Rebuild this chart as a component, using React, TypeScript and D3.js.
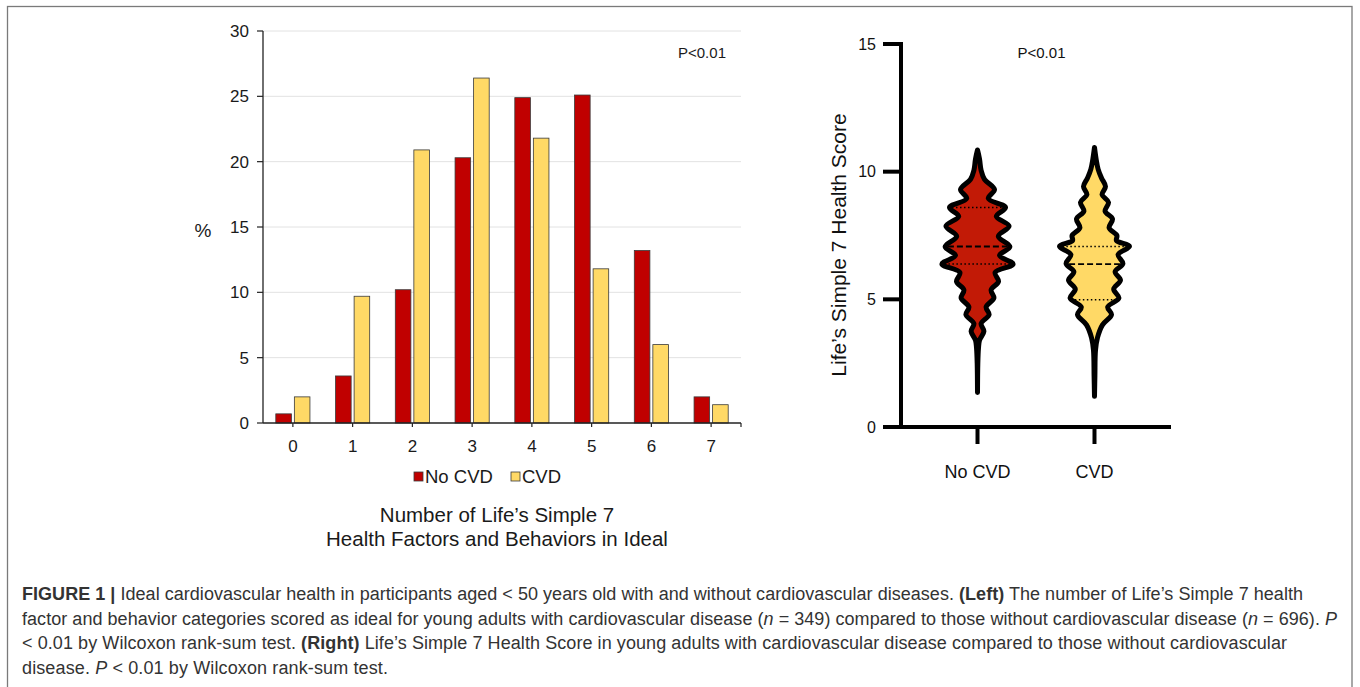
import React from "react";
import * as d3 from "d3";

// ---------- Left panel data ----------
const categories = ["0", "1", "2", "3", "4", "5", "6", "7"];
const seriesNames = ["No CVD", "CVD"];
const noCvdPct = [0.7, 3.6, 10.2, 20.3, 24.9, 25.1, 13.2, 2.0];
const cvdPct = [2.0, 9.7, 20.9, 26.4, 21.8, 11.8, 6.0, 1.4];
const leftTicks = [0, 5, 10, 15, 20, 25, 30];

// ---------- Right panel data ----------
const groups = ["No CVD", "CVD"];
const rightTicks = [0, 5, 10, 15];
const noCvdScores = [10.85, 10.5, 10.05, 9.7, 9.3, 8.95, 8.6, 8.25, 7.87, 7.47, 7.06, 6.72, 6.38, 6.05, 5.7, 5.37, 5.05, 4.7, 4.4, 4.05, 3.75, 3.4, 3.1, 2.5, 1.35];
const noCvdDensity = [0, 0.05, 0.09, 0.175, 0.425, 0.27, 0.7, 0.47, 0.79, 0.52, 0.81, 0.55, 0.89, 0.44, 0.525, 0.34, 0.41, 0.215, 0.29, 0.09, 0.16, 0.05, 0.025, 0.008, 0];
const cvdScores = [10.95, 10.5, 10.1, 9.75, 9.42, 9.1, 8.8, 8.45, 8.15, 7.8, 7.5, 7.3, 7.08, 6.75, 6.4, 6.08, 5.75, 5.4, 5.05, 4.7, 4.4, 4.0, 3.5, 3.0, 2.0, 1.2];
const cvdDensity = [0, 0.04, 0.09, 0.175, 0.275, 0.19, 0.35, 0.265, 0.45, 0.365, 0.56, 0.55, 0.875, 0.59, 0.71, 0.515, 0.65, 0.48, 0.61, 0.33, 0.425, 0.2, 0.075, 0.025, 0.01, 0];
const noCvdQuartiles = [6.38, 7.07, 8.6];
const cvdQuartiles = [4.98, 6.38, 7.07];

const RED = "#C00000";
const VRED = "#C21A06";
const YEL = "#FFD966";
const FONT = "'Liberation Sans', Arial, Helvetica, sans-serif";

function interp(scores: number[], dens: number[], v: number) {
  for (let i = 0; i < scores.length - 1; i++) {
    const a = scores[i], b = scores[i + 1];
    if ((v <= a && v >= b) || (v >= a && v <= b)) {
      const t = (v - a) / (b - a);
      return dens[i] + t * (dens[i + 1] - dens[i]);
    }
  }
  return 0;
}

export default function App() {
  // Left panel scales
  const x0 = d3.scaleBand<string>().domain(categories).range([263, 741]);
  const x1 = d3
    .scaleBand<string>()
    .domain(seriesNames)
    .range([0, x0.bandwidth()])
    .paddingInner(0.16)
    .paddingOuter(0.69);
  const yL = d3.scaleLinear().domain([0, 30]).range([423, 31]);

  // Right panel scales
  const xR = d3.scalePoint<string>().domain(groups).range([901, 1171]).padding(0.654);
  const yR = d3.scaleLinear().domain([0, 15]).range([427, 44]);
  const wScale = d3.scaleLinear().domain([0, 1]).range([0, 40]);

  const violins = [
    { g: "No CVD", scores: noCvdScores, dens: noCvdDensity, q: noCvdQuartiles, fill: VRED },
    { g: "CVD", scores: cvdScores, dens: cvdDensity, q: cvdQuartiles, fill: YEL },
  ];

  const series = [
    { name: "No CVD", values: noCvdPct, fill: RED },
    { name: "CVD", values: cvdPct, fill: YEL },
  ];

  return (
    <svg
      width={1360}
      height={687}
      style={{ position: "absolute", left: 0, top: 0, background: "#fff" }}
      fontFamily={FONT}
    >
      <rect x={7.5} y={6.5} width={1344.5} height={720} fill="none" stroke="#7a7a7a" strokeWidth={1.3} />

      {/* ---------- Left panel ---------- */}
      {leftTicks.map((t) => (
        <g key={"lg" + t}>
          {t > 0 && <line x1={263} x2={741} y1={yL(t)} y2={yL(t)} stroke="#e2e2e2" strokeWidth={1} />}
          <line x1={257} x2={263} y1={yL(t)} y2={yL(t)} stroke="#222" strokeWidth={1.2} />
          <text x={249} y={yL(t)} dy="0.36em" textAnchor="end" fontSize={17} fill="#1a1a1a">
            {t}
          </text>
        </g>
      ))}
      {series.map((s) =>
        s.values.map((v, i) => (
          <rect
            key={s.name + i}
            x={(x0(categories[i]) as number) + (x1(s.name) as number)}
            y={yL(v)}
            width={x1.bandwidth()}
            height={yL(0) - yL(v)}
            fill={s.fill}
            stroke="#3a3a3a"
            strokeWidth={0.8}
          />
        ))
      )}
      <line x1={263} x2={263} y1={yL(30)} y2={yL(0)} stroke="#222" strokeWidth={1.3} />
      <line x1={263} x2={741} y1={yL(0)} y2={yL(0)} stroke="#222" strokeWidth={1.3} />
      {categories.map((c) => {
        const cx = (x0(c) as number) + x0.bandwidth() / 2;
        return (
          <g key={"xc" + c}>
            <line x1={cx} x2={cx} y1={yL(0)} y2={yL(0) + 4} stroke="#222" strokeWidth={1.2} />
            <text x={cx} y={446} dy="0.36em" textAnchor="middle" fontSize={17} fill="#1a1a1a">
              {c}
            </text>
          </g>
        );
      })}
      <line x1={741} x2={741} y1={yL(0)} y2={yL(0) + 4} stroke="#222" strokeWidth={1.2} />
      <text x={203} y={230} dy="0.36em" textAnchor="middle" fontSize={19} fill="#1a1a1a">
        %
      </text>
      <text x={702} y={53} dy="0.36em" textAnchor="middle" fontSize={15} fill="#1a1a1a">
        P&lt;0.01
      </text>
      {/* legend */}
      <rect x={414} y={472} width={9} height={9} fill={RED} stroke="#3a3a3a" strokeWidth={0.8} />
      <text x={425} y={476.5} dy="0.36em" fontSize={18.5} fill="#1a1a1a">
        No CVD
      </text>
      <rect x={511} y={472} width={9} height={9} fill={YEL} stroke="#3a3a3a" strokeWidth={0.8} />
      <text x={522} y={476.5} dy="0.36em" fontSize={18.5} fill="#1a1a1a">
        CVD
      </text>
      <text x={497} y={515} dy="0.36em" textAnchor="middle" fontSize={20.5} fill="#1a1a1a">
        Number of Life’s Simple 7
      </text>
      <text x={497} y={539} dy="0.36em" textAnchor="middle" fontSize={20.5} fill="#1a1a1a">
        Health Factors and Behaviors in Ideal
      </text>

      {/* ---------- Right panel ---------- */}
      {violins.map((vv) => {
        const cx = xR(vv.g) as number;
        const pts = vv.scores.map((s, i) => ({ s, d: vv.dens[i] }));
        const area = d3
          .area<{ s: number; d: number }>()
          .y((p) => yR(p.s))
          .x0((p) => cx - wScale(p.d))
          .x1((p) => cx + wScale(p.d))
          .curve(d3.curveCatmullRom.alpha(0.5));
        return (
          <g key={"v" + vv.g}>
            <path d={area(pts) || ""} fill={vv.fill} stroke="#000" strokeWidth={5} strokeLinejoin="round" />
            {vv.q.map((q, qi) => {
              const hw = Math.max(0, wScale(interp(vv.scores, vv.dens, q)) - 2.5);
              return (
                <line
                  key={"q" + qi}
                  x1={cx - hw}
                  x2={cx + hw}
                  y1={yR(q)}
                  y2={yR(q)}
                  stroke="#000"
                  strokeWidth={qi === 1 ? 1.8 : 1.5}
                  strokeDasharray={qi === 1 ? "6,3" : "1.5,2.5"}
                />
              );
            })}
          </g>
        );
      })}
      <line x1={901} x2={901} y1={yR(15) - 2} y2={yR(0)} stroke="#000" strokeWidth={4} />
      <line x1={883} x2={1171} y1={yR(0)} y2={yR(0)} stroke="#000" strokeWidth={4} />
      {rightTicks.map((t) => (
        <g key={"rt" + t}>
          <line x1={883} x2={901} y1={yR(t)} y2={yR(t)} stroke="#000" strokeWidth={4} />
          <text x={876} y={yR(t)} dy="0.36em" textAnchor="end" fontSize={16} fill="#111">
            {t}
          </text>
        </g>
      ))}
      {groups.map((g) => (
        <g key={"gx" + g}>
          <line x1={xR(g) as number} x2={xR(g) as number} y1={yR(0)} y2={yR(0) + 17} stroke="#000" strokeWidth={4} />
          <text x={xR(g) as number} y={472} dy="0.36em" textAnchor="middle" fontSize={18} fill="#111">
            {g}
          </text>
        </g>
      ))}
      <text
        transform={`translate(838,245) rotate(-90)`}
        dy="0.36em"
        textAnchor="middle"
        fontSize={21}
        fill="#111"
      >
        Life’s Simple 7 Health Score
      </text>
      <text x={1041.5} y={53} dy="0.36em" textAnchor="middle" fontSize={15} fill="#111">
        P&lt;0.01
      </text>

      {/* ---------- Caption ---------- */}
      <g fontSize={18} fill="#333">
        <text x={22} y={600} textLength={1281} lengthAdjust="spacing">
          <tspan fontWeight="bold">FIGURE 1 |</tspan>
          <tspan> Ideal cardiovascular health in participants aged &lt; 50 years old with and without cardiovascular diseases. </tspan>
          <tspan fontWeight="bold">(Left)</tspan>
          <tspan> The number of Life’s Simple 7 health</tspan>
        </text>
        <text x={22} y={624.5} textLength={1315} lengthAdjust="spacing">
          <tspan>factor and behavior categories scored as ideal for young adults with cardiovascular disease (</tspan>
          <tspan fontStyle="italic">n</tspan>
          <tspan> = 349) compared to those without cardiovascular disease (</tspan>
          <tspan fontStyle="italic">n</tspan>
          <tspan> = 696). </tspan>
          <tspan fontStyle="italic">P</tspan>
        </text>
        <text x={22} y={649} textLength={1265} lengthAdjust="spacing">
          <tspan>&lt; 0.01 by Wilcoxon rank-sum test. </tspan>
          <tspan fontWeight="bold">(Right)</tspan>
          <tspan> Life’s Simple 7 Health Score in young adults with cardiovascular disease compared to those without cardiovascular</tspan>
        </text>
        <text x={22} y={674} textLength={366} lengthAdjust="spacing">
          <tspan>disease. </tspan>
          <tspan fontStyle="italic">P</tspan>
          <tspan> &lt; 0.01 by Wilcoxon rank-sum test.</tspan>
        </text>
      </g>
    </svg>
  );
}
